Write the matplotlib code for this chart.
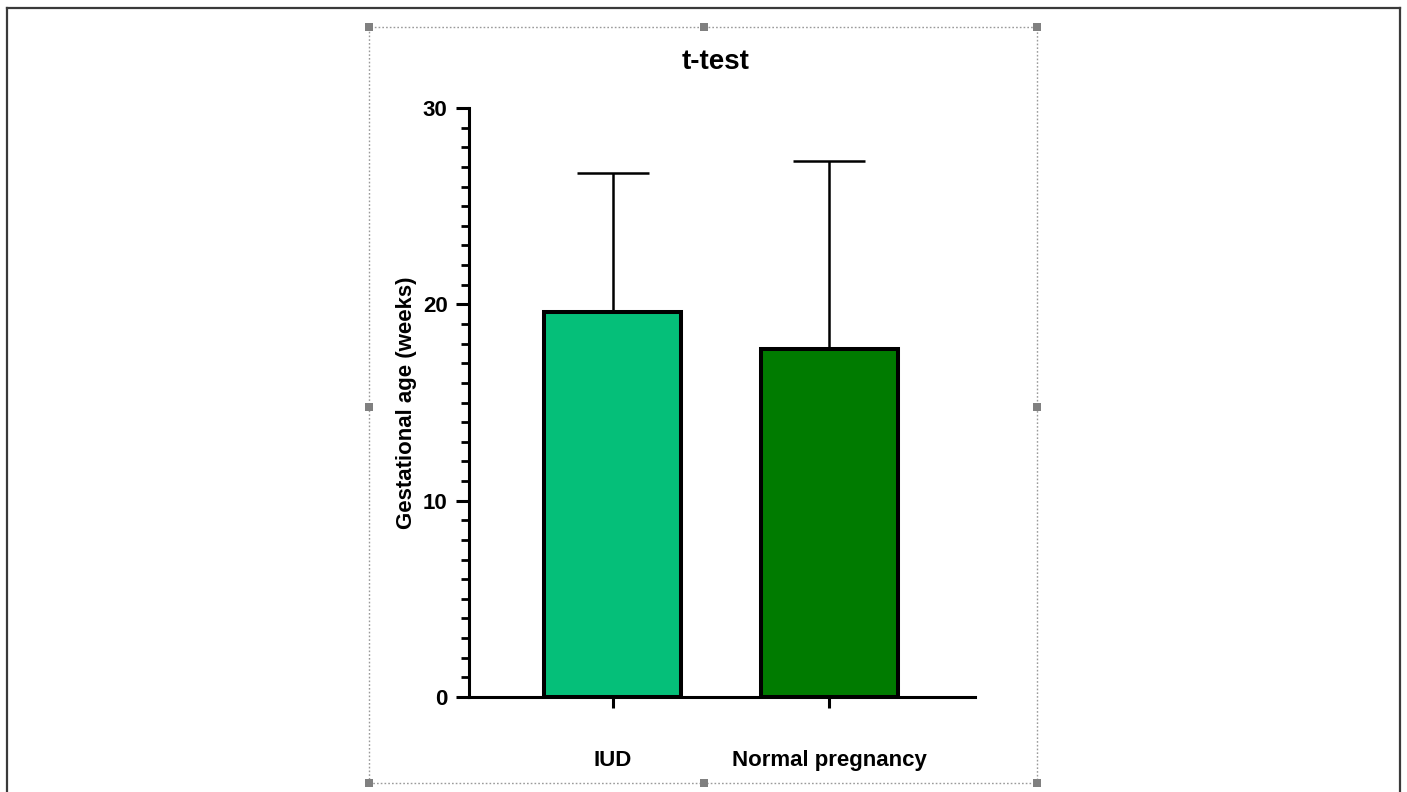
import matplotlib
matplotlib.use("Agg")
import matplotlib.pyplot as plt
from matplotlib.lines import Line2D
from matplotlib.patches import Rectangle
from matplotlib.ticker import MultipleLocator

# ---- data ----
categories = ["IUD", "Normal pregnancy"]
means = [19.6, 17.7]
upper_err = [7.1, 9.6]
bar_colors = ["#05BF79", "#007B00"]
title = "t-test"
ylabel = "Gestational age (weeks)"
yticks = [0, 10, 20, 30]

plt.rcParams['font.family'] = ['Liberation Sans', 'DejaVu Sans']

W, H = 1407, 792
fig = plt.figure(figsize=(W / 100, H / 100), dpi=100)

def fx(px):
    return px / W

def fy(py):
    return 1 - py / H

# outer page frame
for (x0, y0, x1, y1) in [(7, 8, 1400, 8), (7, 8, 7, 792), (1400, 8, 1400, 792)]:
    fig.add_artist(Line2D([fx(x0), fx(x1)], [fy(y0), fy(y1)], color="#3a3a3a",
                          lw=1.6, transform=fig.transFigure))

# dotted selection frame
fig.add_artist(Rectangle((fx(369), fy(783)), fx(1037) - fx(369), fy(27) - fy(783),
                         fill=False, ls=(0, (1.2, 1.5)), lw=1.0, ec="#9a9a9a",
                         transform=fig.transFigure))
for (hx, hy) in [(369, 27), (704, 27), (1037, 27), (369, 407), (1037, 407),
                 (369, 783), (704, 783), (1037, 783)]:
    fig.add_artist(Rectangle((fx(hx - 4), fy(hy + 4)), 8 / W, 8 / H,
                             fc="#808080", ec="none", transform=fig.transFigure))

ax = fig.add_axes([fx(469), fy(697), fx(975) - fx(469), fy(108) - fy(697)])

x = list(range(len(categories)))
ax.bar(x, means, width=0.633, color=bar_colors, edgecolor="black", linewidth=2.9,
       zorder=2)
ax.errorbar(x, means, yerr=[[0] * len(means), upper_err], fmt="none",
            ecolor="black", elinewidth=1.8, capsize=26, capthick=1.8, zorder=1)

ax.set_xlim(-0.663, 1.674)
ax.set_ylim(0, 30)

for s in ["top", "right"]:
    ax.spines[s].set_visible(False)
for s in ["left", "bottom"]:
    ax.spines[s].set_linewidth(2.2)
    ax.spines[s].set_zorder(3)

ax.set_yticks(yticks)
ax.yaxis.set_minor_locator(MultipleLocator(1))
ax.tick_params(axis="y", which="major", length=9.4, width=2.2, pad=6,
               labelsize=16)
ax.tick_params(axis="y", which="minor", length=5.8, width=2.0)
ax.set_xticks(x)
ax.set_xticklabels(categories)
ax.tick_params(axis="x", which="major", length=8, width=2.2, pad=30,
               labelsize=16)
for lab in ax.get_xticklabels() + ax.get_yticklabels():
    lab.set_fontweight("bold")

ax.set_ylabel(ylabel, fontsize=16, fontweight="bold", labelpad=4)
fig.text(fx(716), fy(62), title, fontsize=20, fontweight="bold",
         ha="center", va="center")

fig.savefig("out.png", dpi=100)
